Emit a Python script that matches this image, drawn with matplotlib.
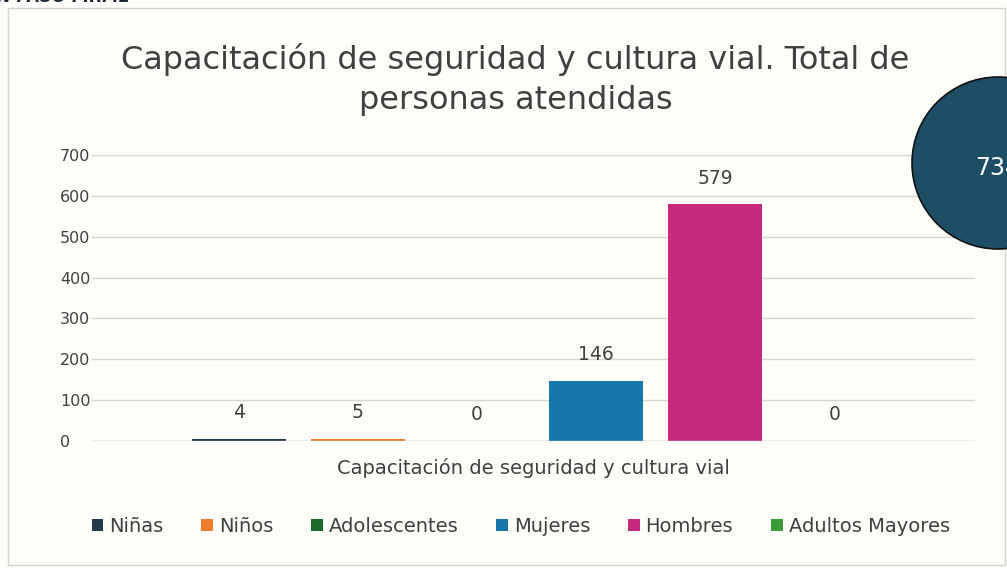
#==================================IMPORTS==================================
import matplotlib
matplotlib.use('Agg')
import matplotlib.pyplot as plt
from matplotlib.patches import Patch, Ellipse

#===================================DATA====================================
categorias = ['Niñas', 'Niños', 'Adolescentes', 'Mujeres', 'Hombres', 'Adultos Mayores']
valores = [4, 5, 0, 146, 579, 0]
colores = ['#24394a', '#ef7d2b', '#1d6a2c', '#1677a9', '#c72a7c', '#3b9b3b']
total = sum(valores)

#=================================PLOTTING==================================
plt.rcParams['font.family'] = ['DejaVu Sans']
fig = plt.figure(figsize=(10.07, 5.68), dpi=100)
fig.patch.set_facecolor('#fdfdfa')
ax = fig.add_axes([0.0914, 0.2236, 0.8766, 0.5034])
ax.set_facecolor('#fdfdfa')

x = list(range(len(categorias)))
bars = ax.bar(x, valores, width=0.79, color=colores, zorder=3)
for xi, v in zip(x, valores):
    ax.annotate(str(v), (xi, v), xytext=(0, 19), textcoords='offset points',
                ha='center', va='center', fontsize=13.5, color='#404040')

ax.set_ylim(0, 700)
ax.set_xlim(-1.23, 6.18)
ax.set_yticks(range(0, 701, 100))
ax.set_xticks([])
ax.tick_params(axis='y', length=0, labelsize=11.5, colors='#404040', pad=23)
for lab in ax.get_yticklabels():
    lab.set_horizontalalignment('left')
ax.grid(axis='y', color='#d9d6cc', linewidth=1, zorder=0)
for s in ax.spines.values():
    s.set_visible(False)
ax.axhline(0, color='#cfcac0', linewidth=1, zorder=4)

ax.set_xlabel('Capacitación de seguridad y cultura vial', fontsize=14,
              color='#404040', labelpad=12)

# titulo
fig.text(0.512, 0.895, 'Capacitación de seguridad y cultura vial. Total de',
         ha='center', va='center', fontsize=23, color='#404040')
fig.text(0.512, 0.823, 'personas atendidas',
         ha='center', va='center', fontsize=23, color='#404040')

# leyenda
handles = [Patch(facecolor=c, label=l) for c, l in zip(colores, categorias)]
fig.legend(handles=handles, loc='center', bbox_to_anchor=(0.517, 0.073), ncol=6,
           frameon=False, fontsize=14, handlelength=0.6, handleheight=0.6,
           handletextpad=0.3, columnspacing=1.95, labelcolor='#404040')

# circulo con el total
circ = Ellipse((998 / 1007, 1 - 163 / 568), 2 * 86 / 1007, 2 * 86 / 568,
               transform=fig.transFigure, facecolor='#1d4e66', edgecolor='#111111',
               linewidth=1.2, zorder=5)
fig.patches.append(circ)
fig.text(975 / 1007, 1 - 168 / 568, str(total), ha='left', va='center',
         fontsize=17, color='white', zorder=6)

# encabezado recortado
fig.text(-0.003, 1.006, 'N PASO FIRME', ha='left', va='center', fontsize=12,
         fontweight='bold', style='italic', color='#1f2a36')

# marco
fig.patches.append(plt.Rectangle((0.008, 0.006), 0.99, 0.98, transform=fig.transFigure,
                                 fill=False, edgecolor='#d6d3cb', linewidth=1))

fig.savefig('out.png', dpi=100, facecolor=fig.get_facecolor())
